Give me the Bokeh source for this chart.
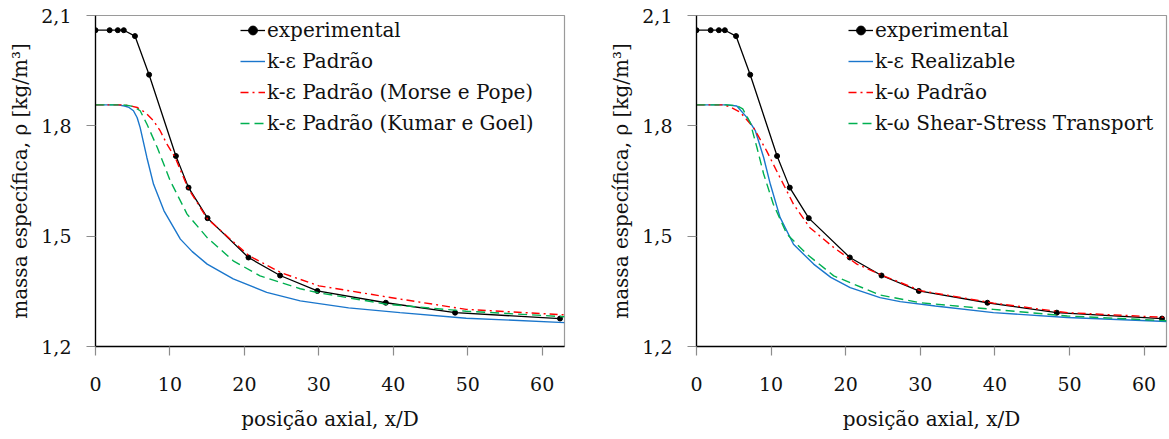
from bokeh.plotting import figure
from bokeh.layouts import row
from bokeh.models import Range1d, FixedTicker, CustomJSTickFormatter, Legend
from bokeh.embed import file_html
from bokeh.resources import INLINE

# ---- data ----
exp_x = [0.0, 1.9, 3.0, 3.8, 5.3, 7.2, 10.8, 12.5, 15.05, 20.55, 24.8, 29.8, 39.0, 48.3, 62.4]
exp_y = [2.060, 2.060, 2.060, 2.060, 2.044, 1.939, 1.718, 1.632, 1.549, 1.442, 1.393, 1.351, 1.319, 1.292, 1.276]

# left panel
ke_std_x = [0, 3.0, 3.9, 4.5, 5.1, 5.6, 6.0, 6.9, 7.8, 9.2, 11.4, 13.0, 15.0, 18.5, 23.0, 27.5, 34.0, 40.9, 49.8, 63.0]
ke_std_y = [1.857, 1.857, 1.854, 1.850, 1.841, 1.822, 1.795, 1.714, 1.641, 1.569, 1.492, 1.458, 1.424, 1.384, 1.347, 1.324, 1.305, 1.292, 1.277, 1.265]

ke_mp_x = [0, 3.5, 4.5, 5.6, 6.7, 7.8, 8.7, 9.6, 10.7, 12.4, 15.0, 20.6, 25.0, 30.0, 40.9, 49.8, 63.0]
ke_mp_y = [1.857, 1.857, 1.855, 1.850, 1.836, 1.814, 1.786, 1.750, 1.714, 1.632, 1.548, 1.447, 1.400, 1.365, 1.329, 1.301, 1.286]

ke_kg_x = [0, 3.5, 4.5, 5.1, 6.0, 6.9, 8.3, 10.05, 12.3, 15.0, 18.5, 22.1, 27.5, 30.0, 39.1, 49.8, 63.0]
ke_kg_y = [1.857, 1.857, 1.855, 1.852, 1.841, 1.805, 1.741, 1.650, 1.560, 1.496, 1.433, 1.392, 1.357, 1.346, 1.315, 1.296, 1.281]

# right panel
ke_rz_x = [0, 4.0, 5.4, 6.75, 7.9, 9.0, 9.9, 11.2, 13.0, 15.7, 18.0, 20.6, 24.6, 27.3, 32.0, 39.8, 49.7, 63.0]
ke_rz_y = [1.857, 1.857, 1.854, 1.823, 1.786, 1.714, 1.641, 1.551, 1.478, 1.424, 1.388, 1.360, 1.333, 1.322, 1.310, 1.292, 1.279, 1.268]

kw_std_x = [0, 3.5, 4.5, 5.86, 7.66, 9.4, 11.2, 13.0, 15.2, 18.4, 21.5, 25.1, 30.0, 39.8, 49.7, 63.0]
kw_std_y = [1.857, 1.857, 1.852, 1.837, 1.795, 1.732, 1.659, 1.587, 1.523, 1.469, 1.424, 1.392, 1.352, 1.318, 1.292, 1.279]

kw_sst_x = [0, 4.0, 5.4, 6.2, 7.2, 8.1, 9.0, 10.3, 12.1, 14.8, 18.4, 24.6, 30.0, 39.8, 49.7, 63.0]
kw_sst_y = [1.857, 1.857, 1.855, 1.846, 1.809, 1.741, 1.669, 1.587, 1.506, 1.451, 1.392, 1.340, 1.319, 1.301, 1.283, 1.270]

x_ticks = [0, 10, 20, 30, 40, 50, 60]
y_ticks = [1.2, 1.5, 1.8, 2.1]

FONT = "'DejaVu Serif', serif"
FS = "19px"
FS_BIG = "20px"
BLUE = "#1a76cc"
RED = "#ff0000"
GREEN = "#00b050"


def make_fig(width, border_left, border_right):
    p = figure(width=width, height=439, output_backend="svg", toolbar_location=None,
               x_range=Range1d(0, 63), y_range=Range1d(1.2, 2.1),
               min_border_left=border_left, min_border_right=border_right,
               min_border_top=15, min_border_bottom=93)
    p.xgrid.visible = False
    p.ygrid.visible = False
    p.outline_line_color = "#9a9a9a"
    p.outline_line_width = 1.2
    p.background_fill_color = "white"
    p.border_fill_color = "white"
    p.xaxis.ticker = FixedTicker(ticks=x_ticks)
    p.yaxis.ticker = FixedTicker(ticks=y_ticks)
    p.yaxis.formatter = CustomJSTickFormatter(code="return tick.toFixed(1).replace('.', ',');")
    for ax in (p.xaxis[0], p.yaxis[0]):
        ax.axis_line_color = "black"
        ax.axis_line_width = 1.3
        ax.major_tick_line_color = "#8c8c8c"
        ax.major_tick_line_width = 1.2
        ax.major_tick_out = 9
        ax.major_tick_in = 0
        ax.minor_tick_line_color = None
        ax.major_label_text_font = FONT
        ax.major_label_text_font_size = FS
        ax.major_label_text_color = "#111111"
        ax.axis_label_text_font = FONT
        ax.axis_label_text_font_size = FS_BIG
        ax.axis_label_text_font_style = "normal"
        ax.axis_label_text_color = "#111111"
    p.xaxis.major_label_standoff = 21
    p.yaxis.major_label_standoff = 15
    p.xaxis.axis_label_standoff = 13
    p.yaxis.axis_label_standoff = 6
    p.xaxis.axis_label = "posição axial, x/D"
    p.yaxis.axis_label = "massa específica, ρ [kg/m³]"
    return p


def add_exp(p):
    r1 = p.line(exp_x, exp_y, line_color="black", line_width=1.3)
    r2 = p.scatter(exp_x, exp_y, size=5, marker="circle", fill_color="black", line_color="black")
    return [r1, r2]


def add_legend(p, items, loc):
    leg = Legend(items=items, location=loc, border_line_color=None, background_fill_alpha=0,
                 label_text_font=FONT, label_text_font_size=FS_BIG, label_text_color="#111111",
                 glyph_width=25, glyph_height=22, label_height=22, label_standoff=2,
                 spacing=7, padding=0, margin=0)
    p.add_layout(leg)


# ---- left ----
p1 = make_fig(597, 95, 33)
e1 = add_exp(p1)
b1 = p1.line(ke_std_x, ke_std_y, line_color=BLUE, line_width=1.4)
r1 = p1.line(ke_mp_x, ke_mp_y, line_color=RED, line_width=1.4, line_dash="8 4 2 4")
g1 = p1.line(ke_kg_x, ke_kg_y, line_color=GREEN, line_width=1.4, line_dash="9 5")
add_legend(p1, [("experimental", e1), ("k-ε Padrão", [b1]),
                ("k-ε Padrão (Morse e Pope)", [r1]),
                ("k-ε Padrão (Kumar e Goel)", [g1])], (145, 211))

# ---- right ----
p2 = make_fig(572, 99, 3)
e2 = add_exp(p2)
b2 = p2.line(ke_rz_x, ke_rz_y, line_color=BLUE, line_width=1.4)
r2 = p2.line(kw_std_x, kw_std_y, line_color=RED, line_width=1.4, line_dash="8 4 2 4")
g2 = p2.line(kw_sst_x, kw_sst_y, line_color=GREEN, line_width=1.4, line_dash="9 5")
add_legend(p2, [("experimental", e2), ("k-ε Realizable", [b2]),
                ("k-ω Padrão", [r2]),
                ("k-ω Shear-Stress Transport", [g2])], (152, 211))

layout = row(p1, p2)
open("out.html", "w").write(file_html(layout, INLINE))
